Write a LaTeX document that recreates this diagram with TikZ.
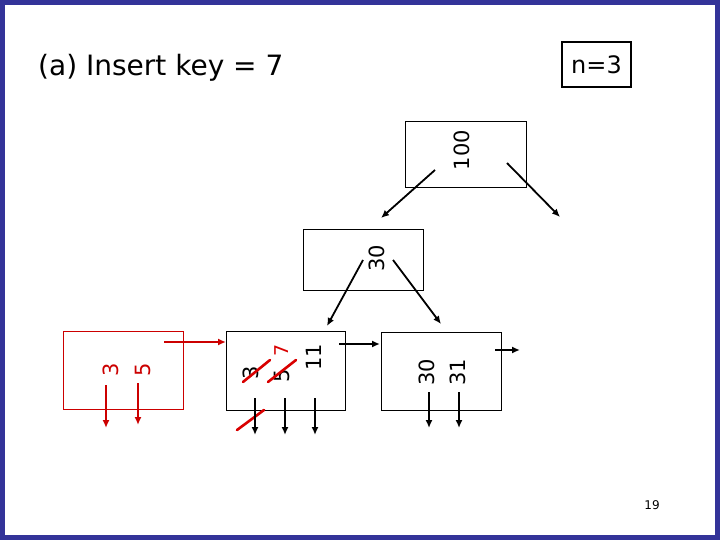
\documentclass[tikz,border=0pt]{standalone}
\usepackage{fontspec}
\setmainfont{DejaVu Sans}
\usetikzlibrary{arrows.meta}
\begin{document}
\begin{tikzpicture}[x=1pt,y=-1pt,
  bx/.style={draw,line width=1pt},
  key/.style={rotate=90,font=\fontsize{21}{21}\selectfont,inner sep=0},
  ar/.style={-{Latex[length=8pt,width=7pt]},line width=1.8pt},
  rar/.style={-{Latex[length=8pt,width=7pt]},line width=1.8pt,red!80!black},
  stk/.style={red!85!black,line width=2.6pt,line cap=round}]
\fill[white] (0,0) rectangle (720,540);
\draw[line width=5pt,color={rgb,255:red,51;green,51;blue,153}] (2.5,2.5) rectangle (717.5,537.5);
\node[anchor=west,font=\fontsize{28}{28}\selectfont,inner sep=0] (title) at (38,68) {(a) Insert key = 7};
\node[draw,line width=2.2pt,minimum width=69pt,minimum height=45pt,font=\fontsize{24}{24}\selectfont] (n) at (596.5,64.5) {n=3};
% root
\node[bx,minimum width=121pt,minimum height=66pt] (root) at (465.5,155) {};
\node[key] (k100) at (462,150) {100};
\coordinate (r1) at (435,170); \coordinate (r1e) at (381,218);
\coordinate (r2) at (507,163); \coordinate (r2e) at (560,217);
\draw[ar] (r1) -- (r1e); \draw[ar] (r2) -- (r2e);
% internal
\node[bx,minimum width=120pt,minimum height=60pt] (int) at (363,260) {};
\node[key] (k30) at (377,258) {30};
\coordinate (i1) at (363,260); \coordinate (i1e) at (327,326);
\coordinate (i2) at (393,260); \coordinate (i2e) at (441,324);
\draw[ar] (i1) -- (i1e); \draw[ar] (i2) -- (i2e);
% red leaf
\node[bx,draw=red!80!black,minimum width=120pt,minimum height=78pt] (lr) at (123,370) {};
\node[key,red!80!black] (k3a) at (111,370) {3};
\node[key,red!80!black] (k5a) at (143,370) {5};
\coordinate (p1) at (106,385); \coordinate (p1e) at (106,428);
\coordinate (p2) at (138,383); \coordinate (p2e) at (138,425);
\draw[rar] (p1) -- (p1e); \draw[rar] (p2) -- (p2e);
\coordinate (lrp) at (164,342); \coordinate (lrpe) at (226,342);
\draw[rar] (lrp) -- (lrpe);
% middle leaf
\node[bx,minimum width=119pt,minimum height=79pt] (lm) at (285.5,370.5) {};
\node[key] (k3b) at (251,373) {3};
\node[key] (k5b) at (282,376) {5};
\node[key,red!85!black,font=\fontsize{19}{19}\selectfont] (k7) at (282,350) {7};
\node[key] (k11) at (314,357) {11};
\draw[stk] (243,382) -- (270,360);
\draw[stk] (268,382) -- (296,360);
\draw[stk] (237,430) -- (264,410);
\coordinate (m1) at (255,398); \coordinate (m1e) at (255,435);
\coordinate (m2) at (285,398); \coordinate (m2e) at (285,435);
\coordinate (m3) at (315,398); \coordinate (m3e) at (315,435);
\draw[ar] (m1) -- (m1e); \draw[ar] (m2) -- (m2e); \draw[ar] (m3) -- (m3e);
\coordinate (mp) at (339,344); \coordinate (mpe) at (380,344);
\draw[ar] (mp) -- (mpe);
% right leaf
\node[bx,minimum width=120pt,minimum height=78pt] (rl) at (441,371) {};
\node[key] (k30b) at (427,372) {30};
\node[key] (k31) at (458,372) {31};
\coordinate (q1) at (429,392); \coordinate (q1e) at (429,428);
\coordinate (q2) at (459,392); \coordinate (q2e) at (459,428);
\draw[ar] (q1) -- (q1e); \draw[ar] (q2) -- (q2e);
\coordinate (rp) at (495,350); \coordinate (rpe) at (520,350);
\draw[ar] (rp) -- (rpe);
\node[font=\fontsize{12}{12}\selectfont\rmfamily] (pg) at (652,505) {19};
\end{tikzpicture}
\end{document}
